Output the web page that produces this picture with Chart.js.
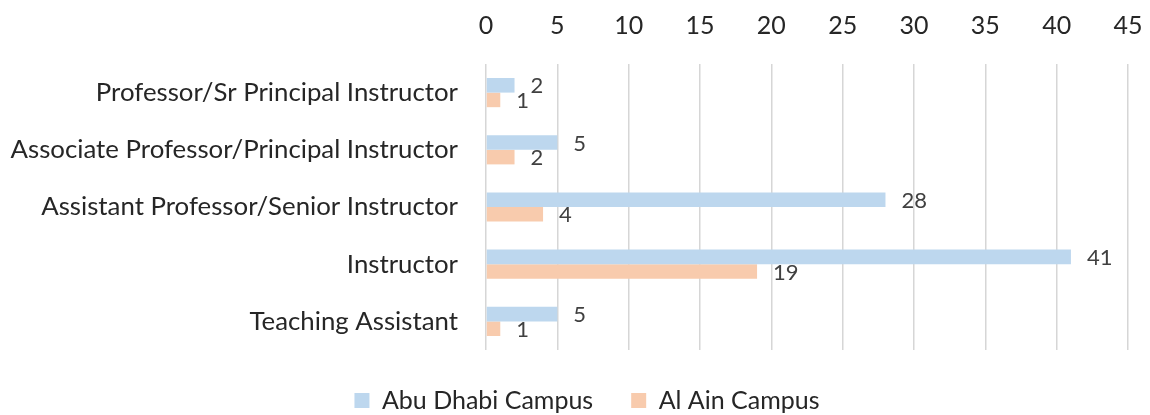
<!DOCTYPE html>
<html>
<head>
<meta charset="utf-8">
<script src="https://cdn.jsdelivr.net/npm/chart.js@4.4.1/dist/chart.umd.min.js"></script>
<style>
  html, body { margin: 0; padding: 0; background: #ffffff; }
  #wrap { width: 1150px; height: 415px; position: relative; }
</style>
</head>
<body>
<div id="wrap"><canvas id="chart"></canvas></div>
<script>
// Faculty counts by rank, per campus
const categories = [
  'Professor/Sr Principal Instructor',
  'Associate Professor/Principal Instructor',
  'Assistant Professor/Senior Instructor',
  'Instructor',
  'Teaching Assistant'
];
const abuDhabi = [2, 5, 28, 41, 5];
const alAin = [1, 2, 4, 19, 1];
const xTicks = [0, 5, 10, 15, 20, 25, 30, 35, 40, 45];

const FONT = 'Lato, "Open Sans", sans-serif';

// Value labels drawn just past the end of each bar
const valueLabels = {
  id: 'valueLabels',
  afterDatasetsDraw(chart) {
    const ctx = chart.ctx;
    ctx.save();
    ctx.font = '22px ' + FONT;
    ctx.fillStyle = '#404040';
    ctx.textAlign = 'left';
    ctx.textBaseline = 'middle';
    chart.data.datasets.forEach((ds, i) => {
      chart.getDatasetMeta(i).data.forEach((bar, j) => {
        ctx.fillText(String(ds.data[j]), bar.x + 16, bar.y + 1);
      });
    });
    ctx.restore();
  }
};

// Nudge the legend row a little to the right of the canvas centre
const legendShift = {
  id: 'legendShift',
  afterLayout(chart) {
    if (chart.legend) {
      chart.legend.left += 23;
      chart.legend.right += 23;
    }
  }
};

new Chart(document.getElementById('chart'), {
  type: 'bar',
  data: {
    labels: categories,
    datasets: [
      { label: 'Abu Dhabi Campus', data: abuDhabi, backgroundColor: '#BDD7EE',
        categoryPercentage: 0.51, barPercentage: 1.0 },
      { label: 'Al Ain Campus', data: alAin, backgroundColor: '#F8CBAD',
        categoryPercentage: 0.51, barPercentage: 1.0 }
    ]
  },
  options: {
    indexAxis: 'y',
    responsive: true,
    maintainAspectRatio: false,
    animation: false,
    layout: { padding: { left: 0, right: 22, top: 0, bottom: -8 } },
    plugins: {
      legend: {
        position: 'bottom',
        labels: {
          boxWidth: 15,
          boxHeight: 15,
          padding: 38,
          color: '#262626',
          font: { family: FONT, size: 25 }
        }
      },
      tooltip: { enabled: false }
    },
    scales: {
      x: {
        position: 'top',
        min: 0,
        max: 45,
        afterBuildTicks(scale) { scale.ticks = xTicks.map(v => ({ value: v })); },
        afterFit(scale) {
          scale.height = 64;
          scale.paddingLeft = 0;
          scale.paddingRight = 0;
        },
        ticks: { color: '#262626', padding: 23, font: { family: FONT, size: 25 } },
        grid: { color: '#D6D6D6', lineWidth: 1.5, drawTicks: false },
        border: { display: false }
      },
      y: {
        afterFit(scale) { scale.width = 486; },
        ticks: { color: '#262626', padding: 28, font: { family: FONT, size: 25.8 } },
        grid: { display: false, drawTicks: false },
        border: { display: false }
      }
    }
  },
  plugins: [valueLabels, legendShift]
});
</script>
</body>
</html>
